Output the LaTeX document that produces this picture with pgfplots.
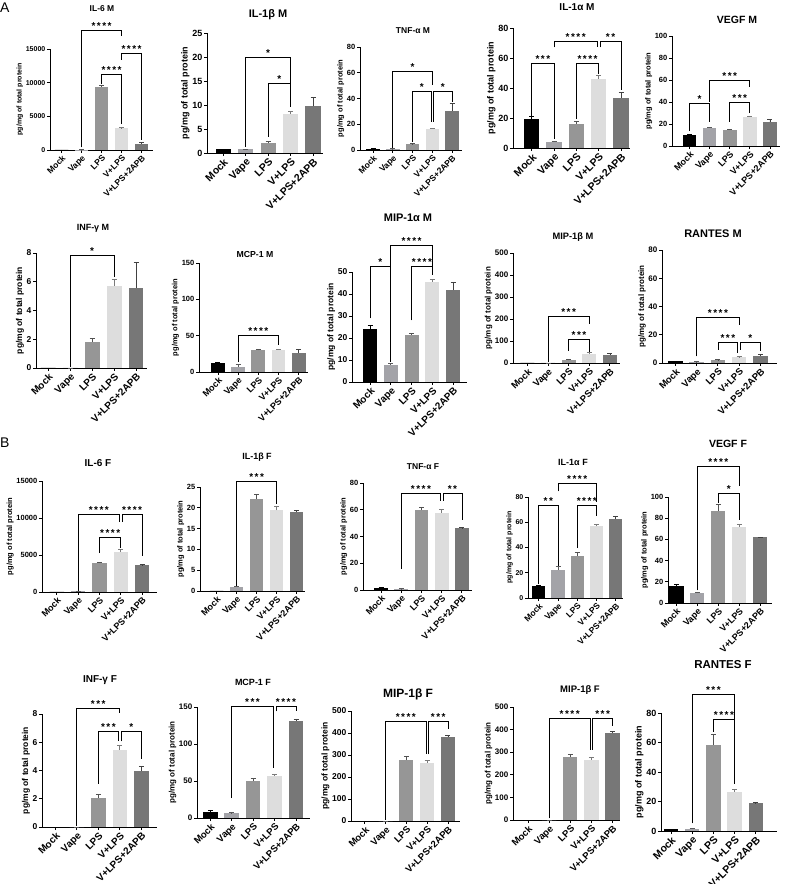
\documentclass[border=0pt]{standalone}
\usepackage{fontspec}
\setmainfont{Liberation Sans}
\usepackage{pgfplots}
\pgfplotsset{compat=1.18}

\definecolor{cMock}{HTML}{000000}
\definecolor{cVape}{HTML}{A3A3A8}
\definecolor{cLPS}{HTML}{969696}
\definecolor{cVL}{HTML}{DDDDDD}
\definecolor{cAPB}{HTML}{777777}

\pgfplotsset{
  panel/.style={
    scale only axis, anchor=south west, clip=false,
    axis x line*=bottom, axis y line*=left,
    axis line style={line width=0.9pt,-},
    every tick/.style={line width=0.9pt, black},
    tick align=outside, major tick length=3pt,
    xtick={0,1,2,3,4},
    xticklabels={Mock,Vape,LPS,V+LPS,V+LPS+2APB},
    x tick label style={rotate=45, anchor=north east, inner sep=1pt},
    y tick label style={inner sep=1.5pt},
    ymin=0,
    scaled y ticks=false,
    /pgf/number format/assume math mode=true,
    /pgf/number format/1000 sep={},
    ylabel={pg/mg of total protein},
    ylabel style={inner sep=1pt},
  },
  geom/.style n args={7}{at={(#1pt,884pt-#2pt)}, width=#3pt, height=#4pt,
    xmin=#5, xmax=#6, ymax=#7},
  fs/.style 2 args={y tick label style={font=\fontsize{#1}{#1}\selectfont\bfseries},
    x tick label style={font=\fontsize{#2}{#2}\selectfont\bfseries},
    label style={font=\fontsize{#1}{#1}\selectfont\bfseries}},
  barst/.style={ybar, bar width=0.68, bar shift=0pt, draw=none,
    error bars/y dir=plus, error bars/y explicit},
}

% one bar with its upper error bar: \onebar{index}{colour}value,error;
\def\onebar#1#2#3,#4;{\addplot[barst, fill=#2,
    error bars/error bar style={line width=0.8pt, draw=#2!55!black},
    error bars/error mark options={rotate=90, mark size=2.5pt, line width=0.8pt, draw=#2!55!black}]
    coordinates {(#1,#3) +- (0,#4)};}
\newcommand\fivebars[5]{\onebar{0}{cMock}#1;\onebar{1}{cVape}#2;\onebar{2}{cLPS}#3;\onebar{3}{cVL}#4;\onebar{4}{cAPB}#5;}

% significance bracket: \brk{x1}{y1}{x2}{y2}{ytop}{stars}
\tikzset{brk/.style={line width=0.8pt, black},
  sig/.style={font=\fontsize{10}{10}\selectfont\bfseries, inner sep=0.5pt, anchor=south}}
\newcommand\brk[6]{\draw[brk] (axis cs:#1,#2) |- node[sig, pos=0.75]{#6} (axis cs:#3,#5) -- (axis cs:#3,#4);}
\def\sI{*}
\def\sII{*\kern1.5pt*}
\def\sIII{*\kern1.5pt*\kern1.5pt*}
\def\sIV{*\kern1.5pt*\kern1.5pt*\kern1.5pt*}

\newcommand\ttl[4]{\node[font=\fontsize{#3}{#3}\selectfont\bfseries] at (#1pt,884pt-#2pt) {#4};}

\begin{document}
\begin{tikzpicture}
\useasboundingbox (0pt,0pt) rectangle (785pt,884pt);

% ---------------- A: M ----------------
\begin{axis}[panel, geom={50}{150}{103}{101}{-0.58}{4.57}{15000}, fs={7}{8.5}, ytick={0,5000,10000,15000}]
\fivebars{0,0}{60,10}{9350,250}{3200,120}{950,120}
\brk{1}{400}{3}{16980}{17820}{\sIV}
\brk{2}{9800}{3}{3860}{11290}{\sIV}
\brk{3}{13370}{4}{1490}{14360}{\sIV}
\end{axis}

\begin{axis}[panel, geom={207}{153}{116}{120}{-0.72}{4.44}{25}, fs={9}{10.5}, ytick={0,5,...,25}]
\fivebars{0.8,0}{0.8,0}{2.1,0.25}{8.2,0.45}{9.7,1.8}
\brk{1}{1.3}{3}{9.5}{19.85}{\sI}
\brk{2}{3.4}{3}{9.5}{14.5}{\sI}
\end{axis}

\begin{axis}[panel, geom={360}{150}{102}{103}{-0.66}{4.5}{80}, fs={7.5}{8.5}, ytick={0,20,...,80}]
\fivebars{0.9,0.2}{0.8,0.1}{4.4,0.5}{16.5,0.3}{30.5,5.6}
\brk{1}{1.5}{3}{50.5}{60.8}{\sI}
\brk{2}{6.5}{2.94}{22}{45.3}{\sI}
\brk{3.06}{22}{4}{37.5}{45.3}{\sI}
\end{axis}

\begin{axis}[panel, geom={513}{148}{117}{120}{-0.84}{4.4}{80}, fs={9}{10.5}, ytick={0,20,...,80}]
\fivebars{19.6,1.5}{4.0,0.4}{16,1.8}{46.2,2}{33.3,4}
\brk{0}{21.5}{1}{6}{56.7}{\sIII}
\brk{1}{67}{2.94}{67}{71.1}{\sIV}
\brk{3.06}{67}{4}{38.5}{71.1}{\sII}
\brk{2}{19.5}{3}{49.6}{56.7}{\sIV}
\end{axis}

\begin{axis}[panel, geom={672}{146}{108}{110}{-0.87}{4.5}{100}, fs={7.5}{9}, ytick={0,20,...,100}]
\fivebars{9.7,0.9}{16.4,0.9}{14.5,0.5}{26.4,0.9}{21.8,2.4}
\brk{0}{14}{1}{22}{38.5}{\sI}
\brk{1}{40}{3}{53.6}{59.7}{\sIII}
\brk{2}{22}{3}{30}{40}{\sIII}
\end{axis}

\begin{axis}[panel, geom={36}{368}{111}{115}{-0.56}{4.5}{8}, fs={8.5}{10}, ytick={0,2,...,8}]
\fivebars{0,0}{0,0}{1.8,0.23}{5.73,0.4}{5.55,1.8}
\brk{1}{0.07}{3}{6.36}{7.8}{\sI}
\end{axis}

\begin{axis}[panel, geom={199}{372}{109}{109}{-0.94}{4.46}{150}, fs={7.5}{9}, ytick={0,50,100,150}]
\fivebars{11.9,0.9}{6.9,3.6}{29.7,1.3}{30.6,0.9}{26.5,4.5}
\brk{1}{13.7}{3}{36.6}{50.3}{\sIV}
\end{axis}

\begin{axis}[panel, geom={352}{382}{115}{110}{-0.87}{4.67}{50}, fs={8.5}{10}, ytick={0,10,...,50}]
\fivebars{23.9,1.6}{7.8,0.8}{21.4,0.7}{45.5,1}{41.7,3.8}
\brk{0}{28.9}{1}{9.3}{52.6}{\sI}
\brk{1}{52.6}{3}{51.5}{62}{\sIV}
\brk{2}{28}{3}{48.5}{52.6}{\sIV}
\end{axis}

\begin{axis}[panel, geom={513}{363}{107}{110}{-0.7}{4.49}{500}, fs={8}{9.5}, ytick={0,100,...,500}]
\fivebars{0,0}{0,0}{12,4}{42,5}{37.8,4.5}
\brk{1}{4}{3}{175}{211.5}{\sIII}
\brk{2}{55}{3}{50}{105.7}{\sIII}
\end{axis}

\begin{axis}[panel, geom={662}{363}{115}{113}{-0.63}{4.78}{80}, fs={8}{9.5}, ytick={0,20,...,80}]
\fivebars{1.2,0.2}{0.7,0.2}{2.1,0.3}{4,0.5}{5.2,0.7}
\brk{1}{4.7}{3}{27}{32.2}{\sIV}
\brk{2}{9.4}{2.94}{7}{14.8}{\sIII}
\brk{3.06}{9.4}{4}{8.2}{14.8}{\sI}
\end{axis}

% ---------------- B: F ----------------
\begin{axis}[panel, geom={42}{592}{115}{111}{-0.7}{4.7}{15000}, fs={7.5}{9}, ytick={0,5000,10000,15000}]
\fivebars{0,0}{90,20}{3900,140}{5390,310}{3590,90}
\brk{1}{100}{2.94}{9520}{10420}{\sIV}
\brk{3.06}{9520}{4}{4800}{10420}{\sIV}
\brk{2}{5250}{3}{5900}{7410}{\sIV}
\end{axis}

\begin{axis}[panel, geom={200}{591}{105}{104}{-0.83}{4.42}{25}, fs={7.5}{9}, ytick={0,5,...,25}]
\fivebars{0,0}{1.04,0.05}{22.2,1}{19.4,1}{19,0.4}
\brk{1}{1.3}{3}{21}{26.4}{\sIII}
\end{axis}

\begin{axis}[panel, geom={363}{590}{109}{107}{-0.9}{4.5}{80}, fs={7.5}{9}, ytick={0,20,...,80}]
\fivebars{1.5,0.5}{0.75,0.3}{59.6,2.5}{57.6,2.5}{46,0.5}
\brk{1}{16}{2.94}{66.6}{72.5}{\sIV}
\brk{3.06}{66.6}{4}{52.7}{72.5}{\sII}
\end{axis}

\begin{axis}[panel, geom={528}{598}{95}{101}{-0.56}{4.38}{80}, fs={7}{8.5}, ytick={0,20,...,80}]
\fivebars{9.2,0.6}{22.4,2.6}{33,3.1}{56.7,1.3}{62.5,1.9}
\brk{0}{11}{1}{25.5}{73.1}{\sII}
\brk{1}{84.4}{3}{76}{90.5}{\sIV}
\brk{2}{39.6}{3}{64.6}{73.1}{\sIV}
\end{axis}

\begin{axis}[panel, geom={668}{603}{104}{106}{-0.4}{4.56}{100}, fs={7.5}{9}, ytick={0,20,...,100}]
\fivebars{15.7,2.2}{9.4,1}{87.1,5.7}{71.7,2.2}{61.9,0.4}
\brk{1}{12}{3}{110}{128.9}{\sIV}
\brk{2}{94.3}{3}{78.6}{103.8}{\sI}
\end{axis}

\begin{axis}[panel, geom={42}{827}{115}{113}{-0.62}{4.73}{8}, fs={8.5}{10}, ytick={0,2,...,8}]
\fivebars{0,0}{0,0}{2.05,0.23}{5.48,0.33}{3.93,0.35}
\brk{1}{0.1}{3}{8.1}{8.42}{\sIII}
\brk{2}{3.06}{2.94}{6.07}{6.78}{\sIII}
\brk{3.06}{6.07}{4}{4.82}{6.78}{\sI}
\end{axis}

\begin{axis}[panel, geom={197}{818}{113}{111}{-0.62}{4.65}{150}, fs={8}{9.5}, ytick={0,50,100,150}]
\fivebars{8.1,2.3}{6.8,0.4}{49.5,4.5}{57.2,2.3}{131.5,2.3}
\brk{1}{27}{2.94}{67.6}{150.9}{\sIII}
\brk{3.06}{144}{4}{144}{150.9}{\sIV}
\end{axis}

\begin{axis}[panel, geom={351}{821}{109}{110}{-0.67}{4.58}{500}, fs={8.5}{9.5}, ytick={0,100,...,500}]
\fivebars{0,0}{0,0}{277,15}{265,12}{383,8}
\brk{1}{5}{2.94}{304.5}{454.5}{\sIV}
\brk{3.06}{304.5}{4}{416.7}{454.5}{\sIII}
\end{axis}

\begin{axis}[panel, geom={513}{820}{107}{113}{-0.71}{4.35}{500}, fs={8}{9.5}, ytick={0,100,...,500}]
\fivebars{0,0}{0,0}{277,14}{266,11}{385,7}
\brk{1}{7}{2.94}{310}{451}{\sIV}
\brk{3.06}{310}{4}{417}{451}{\sIII}
\end{axis}

\begin{axis}[panel, geom={661}{831}{116}{118}{-0.47}{5.0}{80}, fs={9}{10.5}, ytick={0,20,...,80}]
\fivebars{1.1,0.2}{1.6,0.4}{58.6,6.8}{26.6,1.6}{18.7,0.5}
\brk{1}{5.2}{3}{75.5}{92.4}{\sIII}
\brk{2}{67.2}{3}{32.2}{75.5}{\sIV}
\end{axis}

% titles
\ttl{102}{9}{8.5}{IL-6 M}
\ttl{268}{15}{11}{IL-1β M}
\ttl{413}{31}{8.5}{TNF-α M}
\ttl{577}{7}{10}{IL-1α M}
\ttl{737}{20}{10.5}{VEGF M}
\ttl{93}{228}{9}{INF-γ M}
\ttl{255}{255}{8.7}{MCP-1 M}
\ttl{408}{218}{11}{MIP-1α M}
\ttl{573}{237}{9.3}{MIP-1β M}
\ttl{713}{234}{11}{RANTES M}
\ttl{98}{463}{10}{IL-6 F}
\ttl{257}{457}{9}{IL-1β F}
\ttl{423}{467}{8.5}{TNF-α F}
\ttl{573}{462}{9}{IL-1α F}
\ttl{728}{444}{10.5}{VEGF F}
\ttl{100}{680}{10}{INF-γ F}
\ttl{253}{682}{9}{MCP-1 F}
\ttl{408}{694}{12}{MIP-1β F}
\ttl{580}{690}{9.5}{MIP-1β F}
\ttl{723}{665}{11.5}{RANTES F}

\node[font=\fontsize{14}{14}\selectfont, anchor=north west, inner sep=0pt] at (0pt,881pt) {A};
\node[font=\fontsize{14}{14}\selectfont, anchor=north west, inner sep=0pt] at (0pt,446pt) {B};
\end{tikzpicture}
\end{document}
